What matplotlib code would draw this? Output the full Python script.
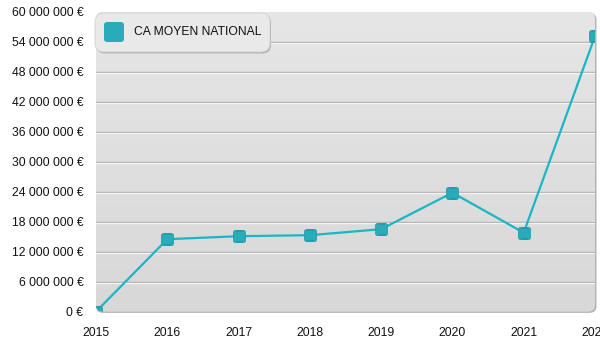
import numpy as np
import matplotlib
matplotlib.use("Agg")
import matplotlib.pyplot as plt
from matplotlib.patches import FancyBboxPatch
from matplotlib.path import Path
from matplotlib.colors import LinearSegmentedColormap
import matplotlib.transforms as mtransforms

# Data
years = [2015, 2016, 2017, 2018, 2019, 2020, 2021, 2022]
ca_moyen = [0, 14500000, 15100000, 15300000, 16500000, 23800000, 15800000, 55100000]
y_ticks = list(range(0, 60000001, 6000000))
series_name = "CA MOYEN NATIONAL"

plt.rcParams['font.family'] = ['Liberation Sans', 'DejaVu Sans']
line_color = "#19b6c6"
marker_color = "#29abb9"


def rounded_square(r=0.3):
    # rounded square marker path
    a = 1 - r
    verts = [(-a, -1), (a, -1), (1, -1), (1, -a), (1, a), (1, 1), (a, 1),
             (-a, 1), (-1, 1), (-1, a), (-1, -a), (-1, -1), (-a, -1), (-a, -1)]
    codes = [Path.MOVETO, Path.LINETO, Path.CURVE3, Path.CURVE3, Path.LINETO,
             Path.CURVE3, Path.CURVE3, Path.LINETO, Path.CURVE3, Path.CURVE3,
             Path.LINETO, Path.CURVE3, Path.CURVE3, Path.CLOSEPOLY]
    return Path(verts, codes)


fig = plt.figure(figsize=(6, 3.5), dpi=100)
W, H = 600, 350
ax_w, ax_h = 499, 300
ax = fig.add_axes([96 / W, 1 - 311.7 / H, ax_w / W, ax_h / H])
ax.patch.set_visible(False)
for s in ax.spines.values():
    s.set_visible(False)

# shadow / border of the plot area
rs = 7 / ax_w
asp = ax_w / ax_h
border = FancyBboxPatch((0, 0), 1 + 1.5 / ax_w, 1, boxstyle=f"round,pad=0,rounding_size={rs}",
                        mutation_aspect=asp, transform=ax.transAxes,
                        facecolor="#b4b4b4", edgecolor="none", zorder=0, clip_on=False)
border.set_transform(mtransforms.offset_copy(ax.transAxes, fig=fig, x=0, y=-1.2, units='dots'))
ax.add_patch(border)
bg = FancyBboxPatch((0, 0), 1, 1, boxstyle=f"round,pad=0,rounding_size={rs}",
                    mutation_aspect=asp, transform=ax.transAxes,
                    facecolor="none", edgecolor="none", zorder=0.5, clip_on=False)
ax.add_patch(bg)
cmap = LinearSegmentedColormap.from_list("bg", ["#d8d8d8", "#e6e6e6"])
grad = np.linspace(0, 1, 256).reshape(-1, 1)
im = ax.imshow(grad, extent=[years[0], years[-1], 0, y_ticks[-1]], origin="lower",
               aspect="auto", cmap=cmap, zorder=0.6, interpolation="bilinear")
im.set_clip_path(bg)

# grid lines with highlight
hl = mtransforms.offset_copy(ax.transData, fig=fig, x=0, y=-1, units='dots')
for v in y_ticks[1:-1]:
    ax.plot([years[0], years[-1]], [v, v], color="#ababab", lw=1, zorder=1)
    ax.plot([years[0], years[-1]], [v, v], color="#f4f4f4", lw=1, zorder=1, transform=hl)

line, = ax.plot(years, ca_moyen, color=line_color, lw=1.6, marker=rounded_square(),
                ms=8.5, mfc=marker_color, mec="#219dab", mew=0.6, zorder=3)
line.set_clip_path(bg)

ax.set_xlim(years[0], years[-1])
ax.set_ylim(0, y_ticks[-1])
ax.set_xticks(years)
ax.set_xticklabels([str(y) for y in years])
ax.set_yticks(y_ticks)
ax.set_yticklabels([f"{v:,}".replace(",", " ") + " €" for v in y_ticks])
ax.tick_params(length=0, labelsize=8.7, colors="#111111")
ax.tick_params(axis="y", pad=9)
ax.tick_params(axis="x", pad=11)

# legend box
lx, ly, lw_, lh = 95, 13, 175, 39
lrs = 9 / W
laspect = W / H
shadow = FancyBboxPatch((lx / W, 1 - (ly + lh) / H), lw_ / W, lh / H,
                        boxstyle=f"round,pad=0,rounding_size={lrs}", mutation_aspect=laspect,
                        transform=mtransforms.offset_copy(fig.transFigure, fig=fig, x=1, y=-1.5, units='dots'),
                        facecolor="#b0b0b0", edgecolor="none", zorder=5)
fig.add_artist(shadow)
box = FancyBboxPatch((lx / W, 1 - (ly + lh) / H), lw_ / W, lh / H,
                     boxstyle=f"round,pad=0,rounding_size={lrs}", mutation_aspect=laspect,
                     transform=fig.transFigure, facecolor="#e9e9e9", edgecolor="#d0d0d0",
                     lw=0.6, zorder=6)
fig.add_artist(box)
sq = FancyBboxPatch((104 / W, 1 - 42 / H), 20 / W, 20 / H,
                    boxstyle=f"round,pad=0,rounding_size={3 / W}", mutation_aspect=laspect,
                    transform=fig.transFigure, facecolor=marker_color, edgecolor="none", zorder=7)
fig.add_artist(sq)
fig.text(134 / W, 1 - 32 / H, series_name, fontsize=8.7, va="center", ha="left",
         color="#111111", zorder=8)

fig.savefig("out.png", dpi=100)
